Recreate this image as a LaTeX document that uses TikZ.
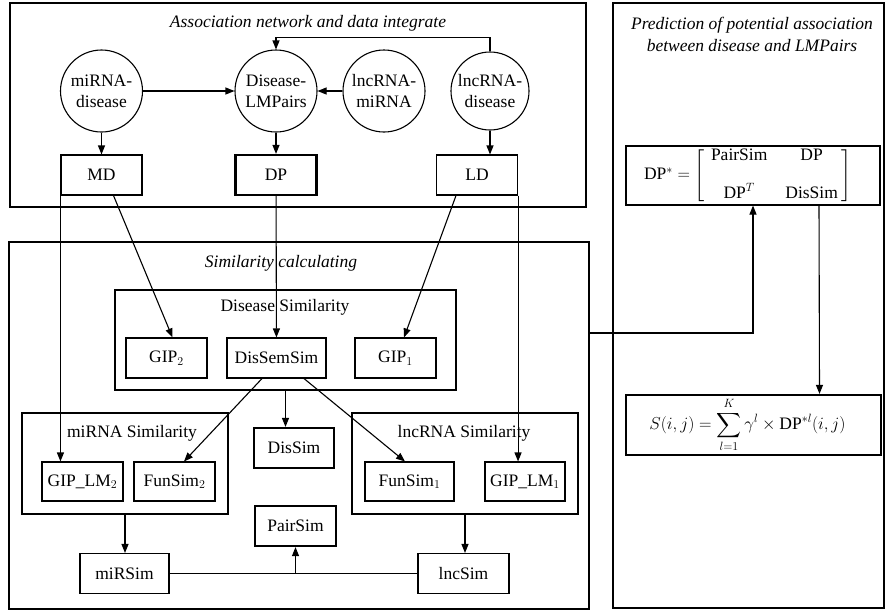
\documentclass[tikz,border=0pt]{standalone}
\usepackage{amsmath}
\usepackage{fontspec}
\setmainfont{Liberation Serif}
\usetikzlibrary{arrows.meta}
\newcommand{\figsize}{\fontsize{17.5}{21}\selectfont}

\begin{document}
\begin{tikzpicture}[x=1pt, y=-1pt, line width=1.1pt, font=\figsize,
    frame/.style={draw, inner sep=0pt},
    blob/.style={draw, circle, inner sep=0pt, minimum size=82pt, align=center},
    cell/.style={draw, inner sep=0pt, minimum width=81pt, minimum height=40pt},
    keycell/.style={cell, line width=2.2pt},
    heading/.style={font=\figsize\itshape, align=center},
    arr/.style={-{Triangle[length=9pt,width=7pt]}}]
  \useasboundingbox (0,0) rectangle (890,614);

  % Outer frames
  \node[frame, minimum width=576pt, minimum height=204pt] (netbox) at (298,105) {};
  \node[frame, minimum width=580pt, minimum height=367pt] (simbox) at (299,425.5) {};
  \node[frame, minimum width=271pt, minimum height=605pt] (predbox) at (748.5,305.5) {};
  \node[heading] (nettitle) at (308,23) {Association network and data integrate};
  \node[heading] (simtitle) at (281,263) {Similarity calculating};
  \node[heading, font=\fontsize{17.5}{22}\selectfont\itshape] (predtitle) at (752,34)
    {Prediction of potential association\\between disease and LMPairs};

  % Association network
  \node[blob] (mdcirc) at (101.5,91) {miRNA-\\disease};
  \node[blob] (pairscirc) at (276,91) {Disease-\\LMPairs};
  \node[blob] (lmcirc) at (384,91) {lncRNA-\\miRNA};
  \node[blob, minimum size=78pt] (ldcirc) at (490,91) {lncRNA-\\disease};
  \node[cell] (mdbox) at (101.5,175) {MD};
  \node[keycell] (dpbox) at (276,175) {DP};
  \node[cell] (ldbox) at (477,175) {LD};

  \draw[arr] (mdcirc) -- (pairscirc);
  \draw[arr] (lmcirc) -- (pairscirc);
  \draw[arr] (ldcirc.north) -- ++(0,-14) -| (pairscirc.north);
  \draw[arr] (mdcirc) -- (mdbox);
  \draw[arr] (pairscirc) -- (dpbox);
  \draw[arr] (ldcirc.south) -- (ldcirc.south |- ldbox.north);

  % Disease similarity
  \node[frame, minimum width=341pt, minimum height=100pt] (disframe) at (285.5,340) {};
  \node (distitle) at (285,307) {Disease Similarity};
  \node[cell] (giptwo) at (166.5,358) {GIP$_2$};
  \node[cell, minimum width=99pt] (dissemsim) at (276.5,358) {DisSemSim};
  \node[cell] (gipone) at (395.5,358) {GIP$_1$};

  % miRNA and lncRNA similarity
  \node[frame, minimum width=206pt, minimum height=101pt] (mirframe) at (125,463.5) {};
  \node (mirtitle) at (132,433) {miRNA Similarity};
  \node[cell, minimum height=39pt] (giplmtwo) at (82.5,481.5) {GIP\_LM$_2$};
  \node[cell, minimum height=39pt] (funsimtwo) at (174.5,481.5) {FunSim$_2$};
  \node[frame, minimum width=226pt, minimum height=101pt] (lncframe) at (465,463.5) {};
  \node (lnctitle) at (464,433) {lncRNA Similarity};
  \node[cell, minimum width=89pt, minimum height=39pt] (funsimone) at (409.5,481.5) {FunSim$_1$};
  \node[cell, minimum width=80pt, minimum height=39pt] (giplmone) at (525,481.5) {GIP\_LM$_1$};

  % Combined similarities
  \node[keycell, minimum width=80pt] (dissim) at (294,448) {DisSim};
  \node[keycell] (pairsim) at (295.5,526) {PairSim};
  \node[cell, minimum width=89pt] (mirsim) at (124.5,573.5) {miRSim};
  \node[cell, minimum width=91pt] (lncsim) at (463.5,573.5) {lncSim};

  \draw[arr] ([xshift=12pt]mdbox.south) -- ([xshift=6pt]giptwo.north);
  \draw[arr] (mdbox.south west) -- (mdbox.south west |- giplmtwo.north);
  \draw[arr] (dpbox) -- (dissemsim);
  \draw[arr] ([xshift=-21pt]ldbox.south) -- ([xshift=8.5pt]gipone.north);
  \draw[arr] (ldbox.south east) -- (ldbox.south east |- giplmone.north);
  \draw[arr] ([xshift=-14.5pt]dissemsim.south) -- ([xshift=9.5pt]funsimtwo.north);
  \draw[arr] ([xshift=27.5pt]dissemsim.south) -- ([xshift=-4.5pt]funsimone.north);
  \draw[arr] (disframe.south) -- (disframe.south |- dissim.north);
  \draw[arr] (mirframe.south) -- (mirframe.south |- mirsim.north);
  \draw[arr] (lncframe.south) -- (lncframe.south |- lncsim.north);
  \draw (mirsim) -- (lncsim);
  \coordinate (join) at (pairsim.south |- mirsim.east);
  \draw[arr] (join) -- (pairsim.south);

  % Prediction
  \node[cell, minimum width=254pt, minimum height=59pt] (dpstar) at (753,175.5)
    {$\text{DP}^{*} = \left[\renewcommand{\arraystretch}{0.6}\setlength{\arraycolsep}{9pt}%
      \begin{array}{@{\hspace{6pt}}cc@{\hspace{4pt}}}
        \text{PairSim} & \text{DP} \\[19pt]
        \text{DP}^{T} & \text{DisSim}
      \end{array}\right]$\hspace*{10pt}};
  \node[keycell, minimum width=255pt, minimum height=60pt] (sbox) at (753.5,425)
    {$\displaystyle S(i, j) = \sum_{l=1}^{K} \gamma^{l} \times \text{DP}^{*l}(i, j)$\hspace*{12pt}};

  \coordinate (simout) at (simbox.east |- 0,333);
  \draw[arr] (simout) -| (dpstar.south);
  \draw[arr] ([xshift=66pt]dpstar.south) -- ([xshift=66pt]sbox.north);
\end{tikzpicture}
\end{document}
